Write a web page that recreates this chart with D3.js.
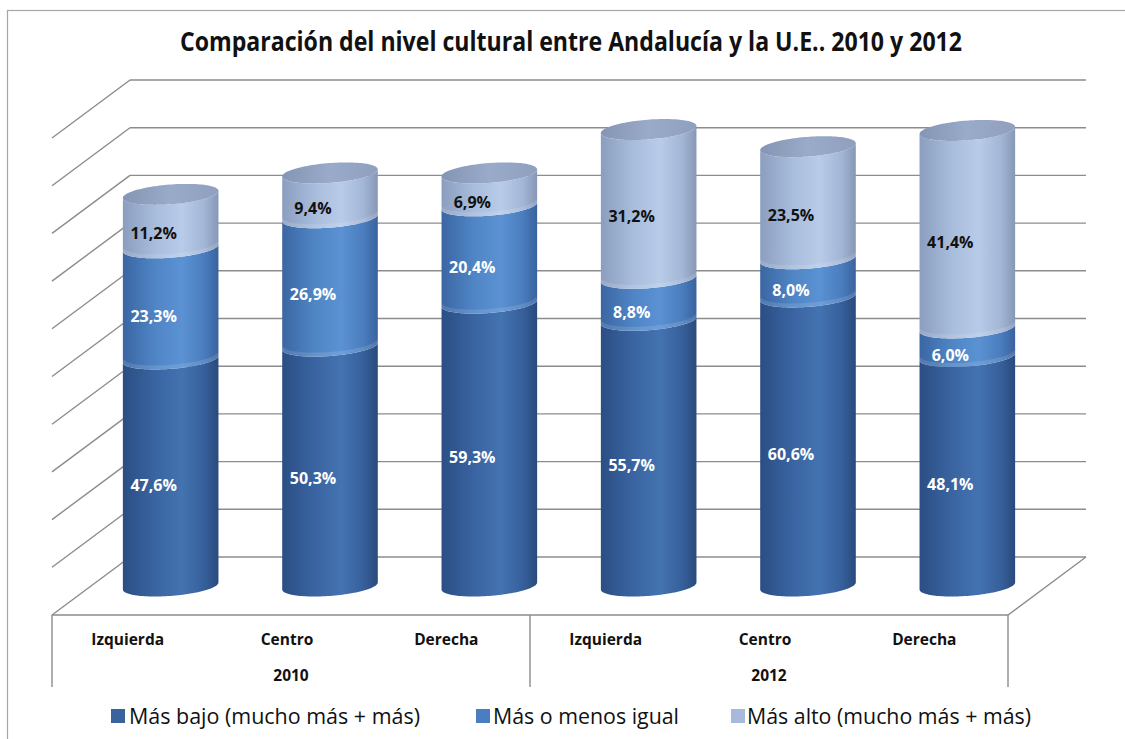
<!DOCTYPE html>
<html>
<head>
<meta charset="utf-8">
<script src="https://cdn.jsdelivr.net/npm/d3@7"></script>
<style>
  html, body { margin: 0; padding: 0; background: #fff; }
  svg { display: block; }
  text { font-family: "Open Sans", "Noto Sans", sans-serif; }
</style>
</head>
<body>
<svg id="chart" width="1125" height="739"></svg>
<script>
// ---- data ----
const categories = ["Izquierda", "Centro", "Derecha", "Izquierda", "Centro", "Derecha"];
const years = ["2010", "2012"];
const seriesNames = ["Más bajo (mucho más + más)", "Más o menos igual", "Más alto (mucho más + más)"];
const masBajo = [47.6, 50.3, 59.3, 55.7, 60.6, 48.1];
const masIgual = [23.3, 26.9, 20.4, 8.8, 8.0, 6.0];
const masAlto = [11.2, 9.4, 6.9, 31.2, 23.5, 41.4];
const valueTicks = [0, 10, 20, 30, 40, 50, 60, 70, 80, 90, 100];
const title = "Comparación del nivel cultural entre Andalucía y la U.E.. 2010 y 2012";

const seriesValues = [masBajo, masIgual, masAlto];
const seriesColors = ["#3a639e", "#4a7ec0", "#a7bad9"];

// ---- layout ----
const svg = d3.select("#chart");
const frontLeft = 52, frontRight = 1008, floorFront = 615;
const depth = { dx: 78, dy: -58 };            // oblique depth vector of the plot box
const y = d3.scaleLinear().domain([0, 100]).range([floorFront + depth.dy, 80]); // back wall scale
const x = d3.scaleBand().domain(d3.range(categories.length))
  .range([frontLeft, frontRight]).paddingInner(0.4).paddingOuter(0.2);

// bars sit at mid depth: half a depth step in front of the back wall
const barY = v => y(v) - depth.dy / 2;
const barCx = i => x(i) + x.bandwidth() / 2 + depth.dx / 2;
// labels sit on the front of each cylinder
const labelShift = { dx: -17, dy: 12.7 };

// ellipse of a cylinder cross-section (sheared by the oblique view)
const halfW = x.bandwidth() / 2;
const shear = 16, ellH = 10.5;
const ellR = Math.sqrt(halfW * halfW - shear * shear);
const t0 = Math.atan2(shear, ellR);
const ell = (cx, cy, t) => [cx + ellR * Math.cos(t) + shear * Math.sin(t), cy - ellH * Math.sin(t)];

function arcPoints(cx, cy, ta, tb, n) {
  const pts = [];
  for (let k = 0; k <= n; k++) pts.push(ell(cx, cy, ta + (tb - ta) * k / n));
  return pts;
}
const line = d3.line();

// ---- frame ----
svg.append("rect").attr("x", 7.5).attr("y", 10.5).attr("width", 1140).attr("height", 760)
  .attr("fill", "none").attr("stroke", "#a6a6a6").attr("stroke-width", 1.2);

// ---- title ----
svg.append("text").attr("x", 571).attr("y", 51).attr("text-anchor", "middle")
  .attr("font-size", 26).attr("font-weight", "bold").attr("fill", "#111")
  .attr("textLength", 782).attr("lengthAdjust", "spacingAndGlyphs")
  .text(title);

// ---- gradients ----
const defs = svg.append("defs");
function hGrad(id, stops) {
  const g = defs.append("linearGradient").attr("id", id)
    .attr("x1", "0%").attr("x2", "100%").attr("y1", "0%").attr("y2", "0%");
  stops.forEach(([o, c]) => g.append("stop").attr("offset", o).attr("stop-color", c));
}
hGrad("side0", [[0, "#2b4e84"], [0.35, "#3a65a2"], [0.62, "#4473b1"], [0.85, "#36609b"], [1, "#2a4a7c"]]);
hGrad("side1", [[0, "#3b66a3"], [0.35, "#5086c6"], [0.62, "#5b92d3"], [0.85, "#4a7dbd"], [1, "#3a639e"]]);
hGrad("side2", [[0, "#8b9ebf"], [0.35, "#a9bddd"], [0.62, "#b8cbe8"], [0.85, "#a3b6d6"], [1, "#8797b6"]]);
hGrad("cap2", [[0, "#8495b5"], [0.5, "#9aabc9"], [1, "#8f9fbd"]]);
hGrad("cap1", [[0, "#3e69a6"], [0.5, "#5385c4"], [1, "#4274b2"]]);
hGrad("cap0", [[0, "#2d5188"], [0.5, "#3b67a3"], [1, "#2f5390"]]);

// ---- walls and gridlines ----
const grid = svg.append("g").attr("stroke", "#8c8c8c").attr("stroke-width", 1.4).attr("fill", "none");
valueTicks.forEach(v => {
  const yb = y(v);
  const backLeft = frontLeft + depth.dx;
  // back wall
  grid.append("path").attr("d", line([[backLeft, yb], [frontRight + depth.dx, yb]]));
  // side wall
  grid.append("path").attr("d", line([[frontLeft, yb - depth.dy], [backLeft, yb]]));
});
// floor front and right edges
grid.append("path").attr("d", line([[frontLeft, floorFront], [frontRight, floorFront], [frontRight + depth.dx, floorFront + depth.dy]]));
// category table dividers
const tableBottom = 687;
[0, 3, 6].forEach(k => {
  const xv = frontLeft + k * x.step();
  grid.append("path").attr("d", line([[xv, floorFront], [xv, tableBottom]]));
});

// ---- cylinders ----
const bars = svg.append("g");
categories.forEach((c, i) => {
  const cx = barCx(i);
  let base = 0;
  seriesValues.forEach((vals, s) => {
    const v0 = base, v1 = base + vals[i];
    const yb = barY(v0), yt = barY(v1);
    const bottomArc = arcPoints(cx, yb, Math.PI + t0, 2 * Math.PI + t0, 60);
    const topArc = arcPoints(cx, yt, 2 * Math.PI + t0, Math.PI + t0, 60);
    bars.append("path").attr("d", line(bottomArc.concat(topArc)) + "Z")
      .attr("fill", `url(#side${s})`);
    // subtle highlight along the lower rim of upper segments
    if (s > 0) {
      bars.append("path").attr("d", line(arcPoints(cx, yb - 2, Math.PI + t0, 2 * Math.PI + t0, 60)))
        .attr("fill", "none").attr("stroke", "#ffffff").attr("stroke-opacity", 0.12).attr("stroke-width", 4);
    }
    if (s === seriesValues.length - 1) {
      bars.append("path").attr("d", line(arcPoints(cx, yt, 0, 2 * Math.PI, 120)) + "Z")
        .attr("fill", `url(#cap${s})`);
    }
    base = v1;
  });
});

// ---- value labels ----
const labels = svg.append("g").attr("font-size", 16).attr("font-weight", "bold").attr("text-anchor", "middle");
categories.forEach((c, i) => {
  let base = 0;
  seriesValues.forEach((vals, s) => {
    const mid = base + vals[i] / 2;
    labels.append("text")
      .attr("x", barCx(i) + labelShift.dx)
      .attr("y", barY(mid) + labelShift.dy)
      .attr("dy", "0.35em")
      .attr("fill", s === 2 ? "#111" : "#ffffff")
      .text(d3.format(".1f")(vals[i]).replace(".", ",") + "%");
    base += vals[i];
  });
});

// ---- category axis ----
const axis = svg.append("g").attr("font-size", 15.5).attr("font-weight", "bold").attr("fill", "#111").attr("text-anchor", "middle");
categories.forEach((c, i) => {
  axis.append("text").attr("x", x(i) + x.bandwidth() / 2 - 4).attr("y", 645).text(c);
});
years.forEach((yr, k) => {
  axis.append("text").attr("x", frontLeft + (k * 3 + 1.5) * x.step()).attr("y", 681).text(yr);
});

// ---- legend ----
const legendItems = [
  { sx: 111, tx: 129, len: 291 },
  { sx: 476, tx: 493, len: 186 },
  { sx: 731, tx: 747, len: 284 }
];
const legend = svg.append("g");
seriesNames.forEach((name, s) => {
  const it = legendItems[s];
  legend.append("rect").attr("x", it.sx).attr("y", 709).attr("width", 14).attr("height", 14)
    .attr("fill", seriesColors[s]);
  legend.append("text").attr("x", it.tx).attr("y", 724).attr("font-size", 22).attr("fill", "#111")
    .attr("textLength", it.len).attr("lengthAdjust", "spacingAndGlyphs").text(name);
});
</script>
</body>
</html>
